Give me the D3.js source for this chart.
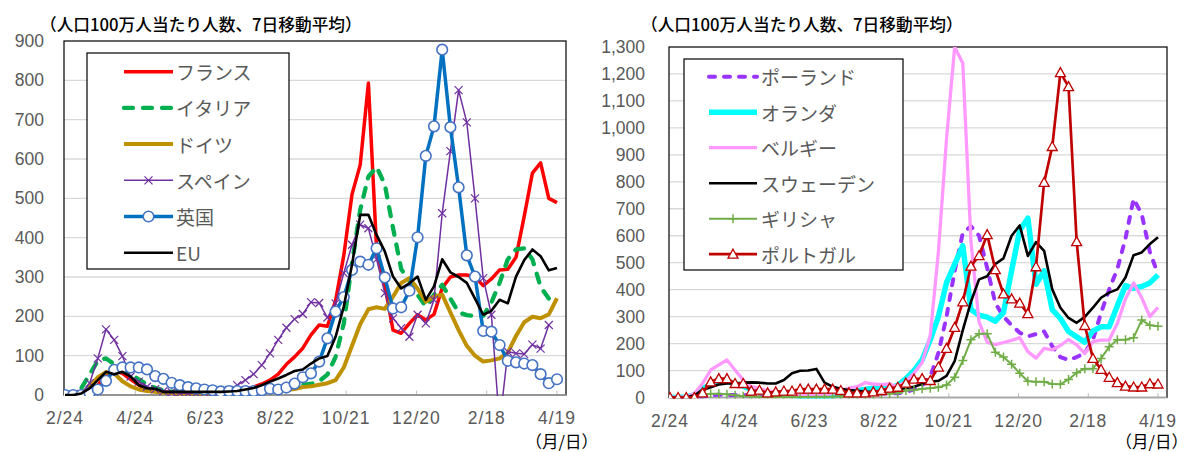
<!DOCTYPE html>
<html><head><meta charset="utf-8">
<script src="https://cdn.jsdelivr.net/npm/d3@7"></script>
<style>
html,body{margin:0;padding:0;background:#fff;}
svg{display:block;}
</style></head>
<body>
<svg id="chart" width="1190" height="452"></svg>
<script>
// Weekly observation dates (Mondays)
const weeks = ["2020-02-24","2020-03-02","2020-03-09","2020-03-16","2020-03-23","2020-03-30",
  "2020-04-06","2020-04-13","2020-04-20","2020-04-27","2020-05-04","2020-05-11","2020-05-18","2020-05-25",
  "2020-06-01","2020-06-08","2020-06-15","2020-06-22","2020-06-29","2020-07-06","2020-07-13","2020-07-20",
  "2020-07-27","2020-08-03","2020-08-10","2020-08-17","2020-08-24","2020-08-31","2020-09-07","2020-09-14",
  "2020-09-21","2020-09-28","2020-10-05","2020-10-12","2020-10-19","2020-10-26","2020-11-02","2020-11-09",
  "2020-11-16","2020-11-23","2020-11-30","2020-12-07","2020-12-14","2020-12-21","2020-12-28","2021-01-04",
  "2021-01-11","2021-01-18","2021-01-25","2021-02-01","2021-02-08","2021-02-15","2021-02-22","2021-03-01",
  "2021-03-08","2021-03-15","2021-03-22","2021-03-29","2021-04-05","2021-04-12","2021-04-19"];

const tickDates  = ["2020-02-24","2020-04-24","2020-06-23","2020-08-22","2020-10-21","2020-12-20","2021-02-18","2021-04-19"];
const tickLabels = ["2/24","4/24","6/23","8/22","10/21","12/20","2/18","4/19"];

const leftTicks  = [0,100,200,300,400,500,600,700,800,900];
const rightTicks = [0,100,200,300,400,500,600,700,800,900,1000,1100,1200,1300];

const titleText = "（人口100万人当たり人数、7日移動平均）";
const unitText  = "（月/日）";

// Cases per million, 7-day average — left panel
const france  = [0,0,2,8,25,50,62,55,40,25,15,12,8,6,5,5,5,6,7,8,10,12,15,20,28,38,53,78,97,119,
  153,178,175,240,355,510,585,793,370,280,165,157,182,204,191,205,272,300,305,305,300,278,295,318,320,350,454,564,590,500,489];
const italy   = [0,2,18,52,87,93,78,62,52,40,27,18,12,9,7,5,4,4,3,3,3,4,5,7,12,18,22,24,25,26,
  28,35,52,97,182,335,471,555,580,535,425,320,290,255,225,255,280,245,210,203,201,201,235,285,345,370,373,345,275,245,242];
const germany = [0,1,5,20,45,58,55,35,22,14,10,8,6,5,4,4,4,4,4,5,5,6,7,9,11,12,13,13,15,20,
  22,26,30,38,70,125,180,218,223,219,250,285,297,270,237,250,255,210,165,125,100,85,88,93,108,150,185,199,195,205,246];
const spain   = [0,0,3,30,93,167,140,99,47,34,21,15,10,7,5,4,4,5,6,8,12,25,38,53,76,106,140,171,193,206,
  236,234,197,233,310,382,433,424,345,259,195,170,148,204,182,242,462,620,775,693,500,297,204,-75,110,106,104,128,118,178];
const uk      = [0,0,0,5,14,36,64,70,70,70,65,48,41,31,25,20,17,14,12,9,10,10,10,10,12,16,14,19,29,45,
  55,85,144,212,249,318,339,331,373,299,220,223,265,401,608,683,878,681,528,355,301,163,161,127,87,83,80,76,53,30,40];
const eu      = [0,0,4,17,38,59,53,59,47,25,17,16,8,8,8,8,8,8,8,8,9,10,14,18,25,34,42,51,61,65,
  80,93,99,148,225,331,458,458,407,365,301,271,284,301,242,276,345,312,300,285,245,204,214,242,233,301,343,370,353,317,323];

// Cases per million, 7-day average — right panel
const poland      = [0,0,0,1,4,8,10,10,9,9,8,8,8,8,8,9,10,10,8,8,9,12,15,17,18,17,15,15,16,20,
  30,45,77,165,300,470,610,635,600,480,350,300,268,240,227,235,245,190,150,139,150,165,214,314,401,476,590,737,680,540,457];
const netherlands = [0,0,2,10,32,50,60,60,52,42,30,22,15,12,10,8,5,4,3,4,6,10,18,25,30,35,32,35,45,70,
  100,140,214,300,426,495,563,326,305,298,283,315,470,620,665,420,470,326,293,245,225,205,247,262,262,340,415,405,412,425,455];
const belgium     = [0,0,2,15,52,102,121,139,102,65,40,33,25,20,15,12,10,8,8,10,15,25,35,40,55,50,48,50,40,60,
  90,130,230,540,960,1300,1240,580,280,205,196,204,212,222,170,146,182,177,193,215,195,163,207,213,213,275,365,425,370,300,334];
const sweden      = [0,0,1,8,28,38,48,52,52,55,56,55,52,52,65,90,99,100,106,55,40,32,28,25,22,20,22,25,28,35,
  40,50,58,62,80,135,250,355,438,450,495,516,600,638,525,576,544,401,333,295,277,299,333,370,389,401,445,528,538,569,594];
const greece      = [0,0,1,3,8,14,14,12,8,5,4,3,2,2,2,2,2,2,3,3,3,4,5,6,8,10,12,14,16,26,
  28,32,34,38,46,75,137,214,236,236,168,150,123,90,60,58,58,50,49,67,92,107,107,145,188,214,214,222,287,268,264];
const portugal    = [0,0,0,0,17,58,70,70,52,52,24,27,17,21,24,24,31,31,31,31,31,26,17,17,17,21,26,35,38,53,
  68,70,63,113,182,260,355,487,526,604,474,384,366,350,311,485,798,931,1205,1153,578,267,145,104,75,55,42,39,39,51,50];

const leftNames  = ["フランス","イタリア","ドイツ","スペイン","英国","EU"];
const rightNames = ["ポーランド","オランダ","ベルギー","スウェーデン","ギリシャ","ポルトガル"];

const parse = d3.utcParse("%Y-%m-%d");
const weekDates = weeks.map(parse);
const svg = d3.select("#chart");

const GRID = "#D9D9D9", AXIS_TXT = "#595959";
const cjk = "'Noto Sans CJK JP','Noto Sans',sans-serif";
const latin = "'Liberation Sans',Arial,sans-serif";

// marker shapes
const markerPath = {
  cross: "M-4,-4L4,4M-4,4L4,-4",
  plus: "M-4.5,0H4.5M0,-4.5V4.5",
  triangle: "M0,-5L5,4L-5,4Z"
};

function drawMarker(g, type, x, y, st) {
  if (type === "circle") {
    g.append("circle").attr("cx", x).attr("cy", y).attr("r", 5.3)
      .attr("fill", "#fff").attr("stroke", st.markerStroke).attr("stroke-width", 1.6);
  } else {
    g.append("path").attr("d", markerPath[type]).attr("transform", `translate(${x},${y})`)
      .attr("fill", type === "triangle" ? "#fff" : "none")
      .attr("stroke", st.markerStroke).attr("stroke-width", st.markerWidth || 1.3)
      .attr("stroke-linejoin", "miter");
  }
}

function drawPanel(cfg) {
  const x = d3.scaleUtc().domain([parse(tickDates[0]), parse(tickDates[tickDates.length - 1])])
    .range([cfg.x0, cfg.x1]);
  const y = d3.scaleLinear().domain([0, cfg.yMax]).range([cfg.bottom, cfg.top]);
  const g = svg.append("g");

  // gridlines
  g.append("g").selectAll("line").data(cfg.yTicks.filter(v => v > 0 && v < cfg.yMax)).join("line")
    .attr("x1", cfg.left).attr("x2", cfg.right)
    .attr("y1", d => y(d)).attr("y2", d => y(d))
    .attr("stroke", GRID).attr("stroke-width", 1.3);

  // y tick labels
  const fmt = cfg.yMax >= 1000 ? d3.format(",") : d3.format("d");
  g.append("g").selectAll("text").data(cfg.yTicks).join("text")
    .attr("x", cfg.yLabelX).attr("y", d => y(d))
    .attr("text-anchor", "end").attr("dominant-baseline", "central")
    .attr("font-family", latin).attr("font-size", 17.5).attr("fill", AXIS_TXT)
    .text(d => fmt(d));

  // x tick labels + small tick marks
  const td = tickDates.map(parse);
  g.append("g").selectAll("text").data(td).join("text")
    .attr("x", d => x(d)).attr("y", cfg.bottom + 23)
    .attr("text-anchor", "middle").attr("dominant-baseline", "central")
    .attr("font-family", latin).attr("font-size", 17.5).attr("fill", AXIS_TXT)
    .attr("letter-spacing", 1)
    .text((d, i) => tickLabels[i]);
  g.append("g").selectAll("line").data(td.slice(1)).join("line")
    .attr("x1", d => x(d)).attr("x2", d => x(d))
    .attr("y1", cfg.bottom).attr("y2", cfg.bottom - 4.5)
    .attr("stroke", "#BFBFBF").attr("stroke-width", 1);

  // plot frame
  g.append("rect").attr("x", cfg.left).attr("y", cfg.top)
    .attr("width", cfg.right - cfg.left).attr("height", cfg.bottom - cfg.top)
    .attr("fill", "none").attr("stroke", "#000").attr("stroke-width", 1.2);
  g.append("line").attr("x1", cfg.left).attr("x2", cfg.right)
    .attr("y1", cfg.bottom).attr("y2", cfg.bottom)
    .attr("stroke", "#A6A6A6").attr("stroke-width", 1.3);

  // clip region for series
  const clipId = "clip-" + cfg.id;
  svg.append("defs").append("clipPath").attr("id", clipId)
    .append("rect").attr("x", cfg.left).attr("y", cfg.top)
    .attr("width", cfg.right - cfg.left).attr("height", cfg.bottom - cfg.top + 1);

  const sg = g.append("g").attr("clip-path", `url(#${clipId})`);
  const line = d3.line().x((d, i) => x(weekDates[i])).y(d => y(d));

  cfg.series.forEach(s => {
    sg.append("path").datum(s.values).attr("d", line)
      .attr("fill", "none").attr("stroke", s.color).attr("stroke-width", s.width)
      .attr("stroke-linejoin", "round")
      .attr("stroke-linecap", s.dash ? "round" : "butt")
      .attr("stroke-dasharray", s.dash || null);
    if (s.marker) {
      const mg = sg.append("g");
      s.values.forEach((v, i) => drawMarker(mg, s.marker, x(weekDates[i]), y(v), s));
    }
  });

  // legend
  const L = cfg.legend;
  const lg = g.append("g");
  lg.append("rect").attr("x", L.x).attr("y", L.y).attr("width", L.w).attr("height", L.h)
    .attr("fill", "#fff").attr("stroke", "#000").attr("stroke-width", 1.2);
  cfg.series.forEach((s, k) => {
    const cy = L.firstY + k * L.step;
    lg.append("line").attr("x1", L.lineX1).attr("x2", L.lineX2).attr("y1", cy).attr("y2", cy)
      .attr("stroke", s.color).attr("stroke-width", s.width)
      .attr("stroke-linecap", s.dash ? "round" : "butt")
      .attr("stroke-dasharray", s.dash || null);
    if (s.marker) drawMarker(lg, s.marker, (L.lineX1 + L.lineX2) / 2, cy, s);
    lg.append("text").attr("x", L.textX).attr("y", cy)
      .attr("dominant-baseline", "central")
      .attr("font-family", cjk).attr("font-size", 19).attr("fill", AXIS_TXT)
      .text(cfg.names[k]);
  });

  // titles
  g.append("text").attr("x", cfg.titleX).attr("y", 24)
    .attr("dominant-baseline", "central")
    .attr("font-family", cjk).attr("font-size", 16.7).attr("font-weight", 500).attr("fill", "#000")
    .text(titleText);
  g.append("text").attr("x", cfg.unitX).attr("y", 441)
    .attr("text-anchor", "end").attr("dominant-baseline", "central")
    .attr("font-family", cjk).attr("font-size", 16.5).attr("fill", "#000")
    .text(unitText);
}

drawPanel({
  id: "left", x0: 65, x1: 557, left: 64, right: 566, top: 41, bottom: 395, yMax: 900,
  yTicks: leftTicks, yLabelX: 44, titleX: 40, unitX: 598, names: leftNames,
  legend: {x: 87, y: 53, w: 202, h: 216, firstY: 71.7, step: 36.2, lineX1: 124, lineX2: 173, textX: 176},
  series: [
    {values: france,  color: "#FF0000", width: 3.5},
    {values: italy,   color: "#00B050", width: 4.3, dash: "9,10"},
    {values: germany, color: "#BF9000", width: 4},
    {values: spain,   color: "#7030A0", width: 1.5, marker: "cross", markerStroke: "#7030A0", markerWidth: 1.2},
    {values: uk,      color: "#0070C0", width: 3.5, marker: "circle", markerStroke: "#4472C4"},
    {values: eu,      color: "#000000", width: 2.6}
  ]
});

drawPanel({
  id: "right", x0: 670, x1: 1158, left: 669, right: 1167, top: 47, bottom: 397.5, yMax: 1300,
  yTicks: rightTicks, yLabelX: 645, titleX: 641, unitX: 1188, names: rightNames,
  legend: {x: 684, y: 59, w: 219, h: 211, firstY: 76.7, step: 35.5, lineX1: 709, lineX2: 757, textX: 761},
  series: [
    {values: poland,      color: "#9933FF", width: 4, dash: "6,9"},
    {values: netherlands, color: "#00FFFF", width: 5.5},
    {values: belgium,     color: "#FF99FF", width: 3.3},
    {values: sweden,      color: "#000000", width: 2.6},
    {values: greece,      color: "#70AD47", width: 2, marker: "plus", markerStroke: "#70AD47", markerWidth: 1.5},
    {values: portugal,    color: "#C00000", width: 2.7, marker: "triangle", markerStroke: "#C00000", markerWidth: 1.3}
  ]
});
</script>
</body></html>
